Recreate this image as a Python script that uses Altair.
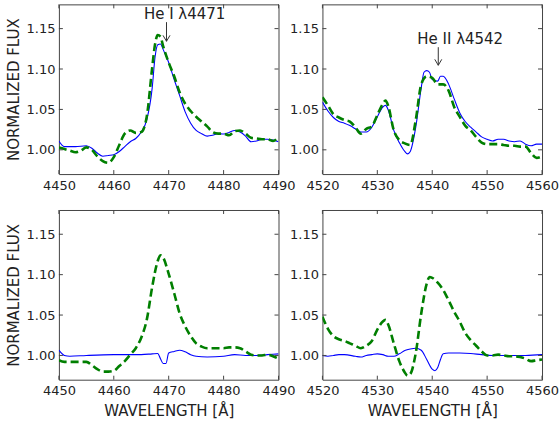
import altair as alt
import pandas as pd

# ---------------- data ----------------
# top-left (He I 4471, first spectrum)
tl_blue_wl = [4450, 4451, 4453, 4455, 4456, 4457, 4458, 4459, 4460, 4461, 4462, 4463, 4464, 4465, 4466, 4467,
              4467.5, 4468, 4468.5, 4469, 4470, 4471, 4472, 4473, 4474, 4475, 4476, 4477, 4478, 4479, 4480,
              4481, 4482, 4483, 4484, 4485, 4486, 4487, 4488, 4489, 4490]
tl_blue_fx = [1.011, 1.004, 1.004, 1.005, 1.002, 0.996, 0.992, 0.993, 0.994, 0.998, 1.004, 1.010, 1.014, 1.022,
              1.037, 1.077, 1.114, 1.130, 1.131, 1.124, 1.108, 1.087, 1.067, 1.047, 1.033, 1.024, 1.020, 1.017,
              1.018, 1.020, 1.0195, 1.0215, 1.024, 1.022, 1.017, 1.010, 1.011, 1.013, 1.013, 1.012, 1.010]
tl_green_wl = [4450, 4451, 4452, 4453, 4454, 4455, 4456, 4457, 4458, 4459, 4460, 4461, 4462, 4463, 4464, 4465,
               4466, 4467, 4467.5, 4468, 4468.5, 4469, 4470, 4471, 4472, 4473, 4474, 4475, 4476, 4477, 4478,
               4479, 4480, 4481, 4482, 4483, 4484, 4485, 4486, 4487, 4488, 4489, 4490]
tl_green_fx = [1.003, 1.001, 0.999, 0.997, 0.999, 1.003, 1.000, 0.992, 0.986, 0.984, 0.991, 1.006, 1.020, 1.024,
               1.021, 1.022, 1.041, 1.102, 1.130, 1.142, 1.140, 1.128, 1.108, 1.091, 1.071, 1.057, 1.048, 1.041,
               1.035, 1.029, 1.022, 1.020, 1.020, 1.018, 1.023, 1.024, 1.020, 1.015, 1.014, 1.013, 1.013, 1.011,
               1.016]

# top-right (He II 4542, first spectrum)
tr_blue_wl = [4520, 4521, 4522, 4523, 4524, 4525, 4526, 4527, 4528, 4529, 4530, 4531, 4531.5, 4532, 4533, 4534,
              4535, 4535.5, 4536, 4537, 4538, 4538.5, 4539, 4539.5, 4540, 4541, 4541.5, 4542, 4543, 4544, 4545,
              4546, 4547, 4548, 4549, 4550, 4551, 4552, 4553, 4554, 4555, 4556, 4557, 4558, 4559, 4560]
tr_blue_fx = [1.059, 1.048, 1.040, 1.035, 1.033, 1.030, 1.026, 1.022, 1.022, 1.028, 1.041, 1.053, 1.055, 1.049,
              1.024, 1.009, 0.998, 0.995, 0.998, 1.028, 1.077, 1.096, 1.098, 1.096, 1.087, 1.085, 1.091, 1.091,
              1.081, 1.063, 1.046, 1.035, 1.028, 1.022, 1.016, 1.013, 1.011, 1.013, 1.013, 1.011, 1.010, 1.011,
              1.007, 1.005, 1.007, 1.007]
tr_green_wl = [4520, 4521, 4522, 4523, 4524, 4525, 4526, 4527, 4528, 4529, 4530, 4531, 4531.5, 4532, 4533, 4534,
               4535, 4536, 4537, 4538, 4539, 4540, 4541, 4542, 4543, 4544, 4545, 4546, 4547, 4548, 4549, 4550,
               4551, 4552, 4553, 4554, 4555, 4556, 4557, 4558, 4559, 4560]
tr_green_fx = [1.065, 1.055, 1.044, 1.040, 1.037, 1.035, 1.028, 1.020, 1.026, 1.029, 1.043, 1.057, 1.061, 1.054,
               1.024, 1.012, 1.008, 1.006, 1.037, 1.081, 1.091, 1.089, 1.081, 1.081, 1.073, 1.053, 1.041, 1.030,
               1.024, 1.016, 1.009, 1.007, 1.007, 1.007, 1.006, 1.005, 1.005, 1.004, 1.004, 0.996, 0.990, 0.992]

# bottom-left (He I 4471, second spectrum)
bl_blue_wl = [4450, 4451, 4452, 4455, 4460, 4465, 4467, 4468, 4468.5, 4469, 4469.5, 4470, 4471, 4472, 4473,
              4474, 4475, 4477, 4480, 4482, 4484, 4486, 4488, 4490]
bl_blue_fx = [1.0065, 1.000, 0.999, 1.000, 1.001, 1.001, 1.002, 1.0025, 0.996, 0.990, 0.990, 1.003, 1.005,
              1.0065, 1.0045, 1.001, 0.999, 0.998, 0.999, 1.001, 1.000, 1.000, 1.001, 1.002]
bl_green_wl = [4450, 4451, 4452, 4453, 4454, 4455, 4456, 4457, 4458, 4459, 4460, 4461, 4462, 4463, 4464, 4465,
               4466, 4467, 4468, 4468.5, 4469, 4470, 4471, 4472, 4473, 4474, 4475, 4476, 4477, 4478, 4479, 4480,
               4481, 4482, 4483, 4484, 4485, 4486, 4487, 4488, 4489, 4490]
bl_green_fx = [0.994, 0.992, 0.992, 0.992, 0.992, 0.992, 0.988, 0.983, 0.980, 0.980, 0.981, 0.987, 0.993, 1.001,
               1.009, 1.022, 1.044, 1.085, 1.117, 1.124, 1.121, 1.101, 1.077, 1.052, 1.036, 1.024, 1.015, 1.011,
               1.009, 1.009, 1.009, 1.009, 1.010, 1.010, 1.009, 1.005, 1.001, 1.000, 1.000, 1.001, 0.999, 0.996]

# bottom-right (He II 4542, second spectrum)
br_blue_wl = [4520, 4521, 4522, 4523, 4524, 4526, 4527, 4528, 4529, 4530, 4531, 4532, 4533, 4534, 4535, 4536,
              4537, 4538, 4539, 4540, 4540.5, 4541, 4541.5, 4542, 4543, 4545, 4547, 4549, 4551, 4553, 4555,
              4557, 4560]
br_blue_fx = [1.000, 0.999, 1.000, 1.001, 1.001, 0.999, 0.998, 1.000, 1.001, 1.002, 1.001, 0.999, 0.999, 1.002,
              1.006, 1.008, 1.009, 1.0065, 0.995, 0.983, 0.981, 0.985, 0.995, 1.002, 1.003, 1.003, 1.0025, 1.001,
              1.000, 1.000, 1.000, 1.000, 1.001]
br_green_wl = [4520, 4521, 4522, 4523, 4524, 4525, 4526, 4527, 4528, 4529, 4530, 4531, 4531.5, 4532, 4533, 4534,
               4535, 4535.5, 4536, 4537, 4538, 4539, 4539.5, 4540, 4541, 4542, 4543, 4544, 4545, 4546, 4547,
               4548, 4549, 4550, 4551, 4552, 4553, 4554, 4555, 4556, 4557, 4558, 4559, 4560]
br_green_fx = [1.048, 1.033, 1.024, 1.020, 1.018, 1.015, 1.012, 1.009, 1.012, 1.018, 1.032, 1.042, 1.044, 1.038,
               1.015, 0.993, 0.979, 0.975, 0.977, 1.003, 1.052, 1.089, 1.097, 1.096, 1.090, 1.081, 1.068, 1.054,
               1.042, 1.028, 1.019, 1.012, 1.005, 1.000, 1.000, 1.001, 1.000, 0.999, 0.999, 0.998, 0.996, 0.993,
               0.994, 0.995]

# annotations
ann_tl_text = "He I λ4471"
ann_tl = {"tx": 4472.9, "ty": 1.1615, "ax": 4469.6, "ay1": 1.158, "ay2": 1.1343}
ann_tr_text = "He II λ4542"
ann_tr = {"tx": 4545.1, "ty": 1.1306, "ax": 4541.1, "ay1": 1.127, "ay2": 1.1046}

y_ticks = [1.00, 1.05, 1.10, 1.15]
y_domain = [0.97, 1.18]
W, H = 220, 170
INK = "#222222"
FRAME = "#444444"


def panel(lo, hi, bwl, bfx, gwl, gfx, ytitle, xtitle, ann=None, ann_text=None):
    xticks = list(range(lo, hi + 1, 10))
    xs = alt.Scale(domain=[lo, hi], nice=False, zero=False, padding=0)
    ys = alt.Scale(domain=y_domain, nice=False, zero=False, padding=0)
    blue = pd.DataFrame({"wl": bwl, "flux": bfx})
    green = pd.DataFrame({"wl": gwl, "flux": gfx})

    xaxis = alt.Axis(values=xticks, format="d", title=xtitle if xtitle else "", labelPadding=5,
                     titlePadding=6, labelFlush=False, labelOverlap=False, labelBound=False)
    yaxis = alt.Axis(values=y_ticks, format=".2f", title=ytitle if ytitle else "", labelPadding=4,
                     titlePadding=5, labelFlush=False, labelOverlap=False, labelBound=False)
    X = alt.X("wl:Q", scale=xs, axis=xaxis)
    Y = alt.Y("flux:Q", scale=ys, axis=yaxis)

    b = alt.Chart(blue).mark_line(color="#0000ff", strokeWidth=1.1, interpolate="monotone", clip=True).encode(
        x=X, y=Y)
    g = alt.Chart(green).mark_line(color="#007f00", strokeWidth=2.6, strokeDash=[8, 4],
                                   interpolate="monotone", clip=True).encode(x=X, y=Y)

    xt = pd.DataFrame({"wl": xticks})
    yt = pd.DataFrame({"flux": y_ticks})
    tick_style = dict(color=FRAME, strokeWidth=1)
    tx_b = alt.Chart(xt).mark_rule(**tick_style).encode(x=X, y=alt.value(H), y2=alt.value(H - 4))
    tx_t = alt.Chart(xt).mark_rule(**tick_style).encode(x=X, y=alt.value(0), y2=alt.value(4))
    ty_l = alt.Chart(yt).mark_rule(**tick_style).encode(y=Y, x=alt.value(0), x2=alt.value(4))
    ty_r = alt.Chart(yt).mark_rule(**tick_style).encode(y=Y, x=alt.value(W - 4), x2=alt.value(W))

    layers = [b, g, tx_b, tx_t, ty_l, ty_r]
    if ann is not None:
        tdf = pd.DataFrame({"wl": [ann["tx"]], "flux": [ann["ty"]], "label": [ann_text]})
        adf = pd.DataFrame({"wl": [ann["ax"]], "flux": [ann["ay1"]], "flux2": [ann["ay2"]]})
        hdf = pd.DataFrame({"wl": [ann["ax"]], "flux": [ann["ay2"]]})
        txt = alt.Chart(tdf).mark_text(align="center", baseline="alphabetic", fontSize=15, font="DejaVu Sans",
                                       color=INK).encode(x=X, y=Y, text="label:N")
        arr = alt.Chart(adf).mark_rule(color="#333333", strokeWidth=1).encode(x=X, y=Y, y2="flux2:Q")
        head = alt.Chart(hdf).mark_point(shape="M-1,-1.7L0,0L1,-1.7", size=49, filled=False, color="#333333",
                                         strokeWidth=1, opacity=1).encode(x=X, y=Y)
        layers += [arr, head, txt]
    return alt.layer(*layers).properties(width=W, height=H)


tl = panel(4450, 4490, tl_blue_wl, tl_blue_fx, tl_green_wl, tl_green_fx, "NORMALIZED FLUX", None, ann_tl, ann_tl_text)
tr = panel(4520, 4560, tr_blue_wl, tr_blue_fx, tr_green_wl, tr_green_fx, None, None, ann_tr, ann_tr_text)
bl = panel(4450, 4490, bl_blue_wl, bl_blue_fx, bl_green_wl, bl_green_fx, "NORMALIZED FLUX", "WAVELENGTH [Å]")
br = panel(4520, 4560, br_blue_wl, br_blue_fx, br_green_wl, br_green_fx, None, "WAVELENGTH [Å]")

chart = alt.concat(
    tl, tr, bl, br, columns=2, spacing={"row": 36, "column": 44}, bounds="flush"
).properties(
    padding={"left": 5, "top": 3, "right": 0, "bottom": 0}
).configure_view(
    stroke=FRAME, strokeWidth=1
).configure_axis(
    labelFont="DejaVu Sans", labelFontSize=13, labelColor=INK,
    titleFont="DejaVu Sans", titleFontSize=15, titleFontWeight="normal", titleColor=INK,
    tickSize=0, domain=False, grid=False,
)

chart.save("out.html", embed_options={"renderer": "svg", "actions": False})
